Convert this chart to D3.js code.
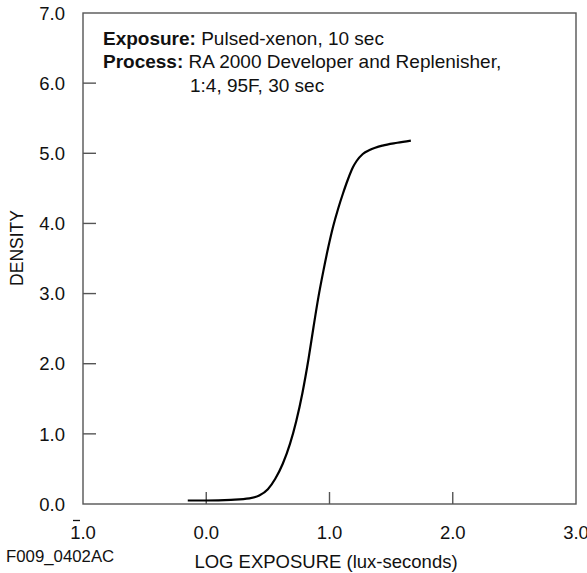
<!DOCTYPE html>
<html lang="en">
  <head>
    <meta charset="UTF-8" />
    <script src="https://d3js.org/d3.v7.min.js"></script>
    <title>Characteristic curve</title>
    <style>
      body { margin: 0; background: #fff; }
      text { font-family: "Liberation Sans", Arial, sans-serif; fill: #111; }
    </style>
  </head>
  <body>
    <svg id="chart" width="587" height="573"></svg>
    <script>
      // curve: log exposure vs density
      var logE = [-0.15, 0.00, 0.20, 0.35, 0.43, 0.50, 0.56, 0.62, 0.68, 0.73, 0.78, 0.83, 0.87, 0.91,
                  0.95, 0.99, 1.03, 1.07, 1.11, 1.15, 1.19, 1.22, 1.27, 1.33, 1.43, 1.55, 1.66];
      var density = [0.05, 0.05, 0.06, 0.08, 0.12, 0.21, 0.36, 0.57, 0.86, 1.18, 1.58, 2.07, 2.52, 2.95,
                     3.32, 3.66, 3.96, 4.21, 4.43, 4.63, 4.80, 4.89, 4.99, 5.05, 5.11, 5.15, 5.18];

      var xTicks = [-1, 0, 1, 2, 3];
      var yTicks = [0, 1, 2, 3, 4, 5, 6, 7];
      var notes = [
        { bold: 'Exposure:', text: 'Pulsed-xenon, 10 sec' },
        { bold: 'Process:', text: 'RA 2000 Developer and Replenisher,' },
        { bold: '', text: '1:4, 95F, 30 sec' }
      ];

      var svg = d3.select('#chart');
      // plot frame edges
      var x0 = 83, x1 = 576, y0 = 504, y1 = 13;

      var x = d3.scaleLinear().domain([-1, 3]).range([x0, x1]);
      var y = d3.scaleLinear().domain([0, 7]).range([y0, y1]);

      // frame
      svg.append('rect')
        .attr('x', x0).attr('y', y1)
        .attr('width', x1 - x0).attr('height', y0 - y1)
        .attr('fill', 'none').attr('stroke', '#555').attr('stroke-width', 1.4);

      // inner ticks
      svg.append('g').selectAll('line')
        .data(yTicks.filter(function(d) { return d > 0 && d < 7; }))
        .enter().append('line')
        .attr('x1', x0).attr('x2', x0 + 13)
        .attr('y1', function(d) { return y(d); }).attr('y2', function(d) { return y(d); })
        .attr('stroke', '#555').attr('stroke-width', 1.4);

      svg.append('g').selectAll('line')
        .data(xTicks.filter(function(d) { return d > -1 && d < 3; }))
        .enter().append('line')
        .attr('x1', function(d) { return x(d); }).attr('x2', function(d) { return x(d); })
        .attr('y1', y0).attr('y2', y0 - 12)
        .attr('stroke', '#555').attr('stroke-width', 1.4);

      // y labels
      svg.append('g').selectAll('text')
        .data(yTicks).enter().append('text')
        .attr('x', 65).attr('y', function(d) { return y(d); })
        .attr('dy', '0.36em')
        .attr('text-anchor', 'end')
        .style('font-size', '18.5px')
        .text(function(d) { return Math.abs(d).toFixed(1); });

      // x labels (negative shown with bar notation)
      svg.append('g').selectAll('text')
        .data(xTicks).enter().append('text')
        .attr('x', function(d) { return x(d); }).attr('y', 539)
        .attr('text-anchor', 'middle')
        .style('font-size', '18.5px')
        .text(function(d) { return Math.abs(d).toFixed(1); });

      svg.append('g').selectAll('line')
        .data(xTicks.filter(function(d) { return d < 0; }))
        .enter().append('line')
        .attr('x1', function(d) { return x(d) - 10; }).attr('x2', function(d) { return x(d) - 3; })
        .attr('y1', 520.5).attr('y2', 520.5)
        .attr('stroke', '#111').attr('stroke-width', 1.3);

      // axis titles
      svg.append('text')
        .attr('transform', 'translate(23,248) rotate(-90)')
        .attr('text-anchor', 'middle')
        .style('font-size', '17.5px')
        .text('DENSITY');

      svg.append('text')
        .attr('x', 326).attr('y', 568)
        .attr('text-anchor', 'middle')
        .style('font-size', '18.5px')
        .text('LOG EXPOSURE (lux-seconds)');

      svg.append('text')
        .attr('x', 6).attr('y', 562)
        .style('font-size', '16.8px')
        .text('F009_0402AC');

      // notes
      var nt = svg.append('g').selectAll('text')
        .data(notes).enter().append('text')
        .attr('x', function(d, i) { return i < 2 ? 103 : 190; })
        .attr('y', function(d, i) { return 45 + i * 23.3; })
        .style('font-size', '19px');
      nt.append('tspan').style('font-weight', 'bold').text(function(d) { return d.bold; });
      nt.append('tspan').text(function(d) { return (d.bold ? ' ' : '') + d.text; });

      // curve
      var pts = logE.map(function(v, i) { return [v, density[i]]; });
      svg.append('path')
        .datum(pts)
        .attr('fill', 'none').attr('stroke', '#000').attr('stroke-width', 2.2)
        .attr('d', d3.line()
          .x(function(d) { return x(d[0]); })
          .y(function(d) { return y(d[1]); })
          .curve(d3.curveMonotoneX));
    </script>
  </body>
</html>
